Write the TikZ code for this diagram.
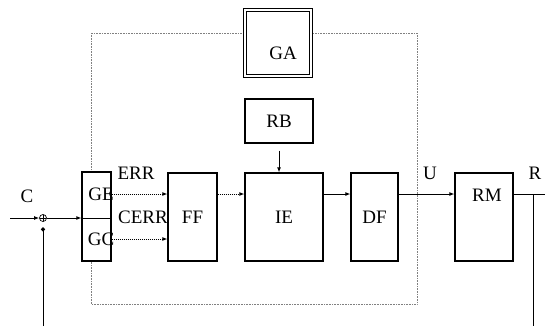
\documentclass[tikz,border=0pt]{standalone}
\usepackage{fontspec}
\setmainfont{Liberation Serif}
\usetikzlibrary{arrows.meta}

\begin{document}
\begin{tikzpicture}[x=1pt, y=-1pt, >={Latex[length=5pt,width=4pt]},
  blk/.style={draw, line width=1.2pt, fill=white, inner sep=0pt},
  txt/.style={font=\fontsize{19}{21}\selectfont, inner sep=0pt},
  sig/.style={line width=1pt},
  dsig/.style={line width=1pt, densely dotted}]
  \useasboundingbox (0,0) rectangle (545,326);
  % Dotted adaptation loop
  \draw[gray, densely dotted, line width=0.6pt] (91,33) rectangle (417,304);
  % GA box, double frame
  \node[blk, double, double distance=2pt, minimum width=66pt, minimum height=66pt,
        label={[txt, xshift=5pt, yshift=-10pt]center:GA}] (ga) at (278,43) {};
  % RB box
  \node[blk, txt, minimum width=68pt, minimum height=44pt] (rb) at (279,121) {RB};
  % GE / GC box
  \node[blk, minimum width=29pt, minimum height=89pt] (gbox) at (96.5,216.5) {};
  \node[txt] (ge) at (101,194) {GE};
  \node[txt] (gc) at (101,239) {GC};
  % Main chain
  \node[blk, txt, minimum width=49pt, minimum height=88pt] (ff) at (192.5,217) {FF};
  \node[blk, txt, minimum width=78pt, minimum height=88pt] (ie) at (284,217) {IE};
  \node[blk, txt, minimum width=47pt, minimum height=88pt] (df) at (374.5,217) {DF};
  \node[blk, minimum width=58pt, minimum height=88pt,
        label={[txt, xshift=3pt, yshift=22pt]center:RM}] (rm) at (484,217) {};
  % Summing point
  \node[draw, circle, minimum size=7pt, inner sep=0pt, line width=0.7pt,
        path picture={\draw (path picture bounding box.north) -- (path picture bounding box.south)
                            (path picture bounding box.west) -- (path picture bounding box.east);}]
        (sum) at (43,218) {};
  % Free ends
  \coordinate (cin) at (10,218);
  \coordinate (fbl) at (43,326);
  \coordinate (tap) at (533,194);
  \coordinate (rout) at (545,194);
  \coordinate (fbr) at (533,326);
  % Input and feedback
  \draw[sig,->] (cin) -- (sum.west);
  \node[txt] (c) at (27,196) {C};
  \draw[sig, -{Circle[length=4pt]}, shorten >=5.5pt] (fbl) -- (sum.south);
  \draw[sig,->] (sum.east) -- (gbox.west |- sum);
  \draw[sig] (gbox.west |- sum) -- (gbox.east |- sum);
  % Error signals
  \draw[dsig,->] (gbox.east |- ge) -- (ff.west |- ge);
  \draw[dsig,->] (gbox.east |- gc) -- (ff.west |- gc);
  \node[txt] (err) at (136,173) {ERR};
  \node[txt] (cerr) at (143,217) {CERR};
  % Forward path
  \draw[dsig,->] (ff.east |- ge) -- (ie.west |- ge);
  \draw[sig,->, shorten <=7pt] (rb.south) -- (rb.south |- ie.north);
  \draw[sig,->] (ie.east |- ge) -- (df.west |- ge);
  \draw[sig,->] (df.east |- ge) -- (rm.west |- ge);
  \node[txt] (u) at (430,173) {U};
  \draw[sig] (rm.east |- ge) -- (rout);
  \node[txt] (r) at (535,173) {R};
  \draw[sig] (tap) -- (fbr);
\end{tikzpicture}
\end{document}
